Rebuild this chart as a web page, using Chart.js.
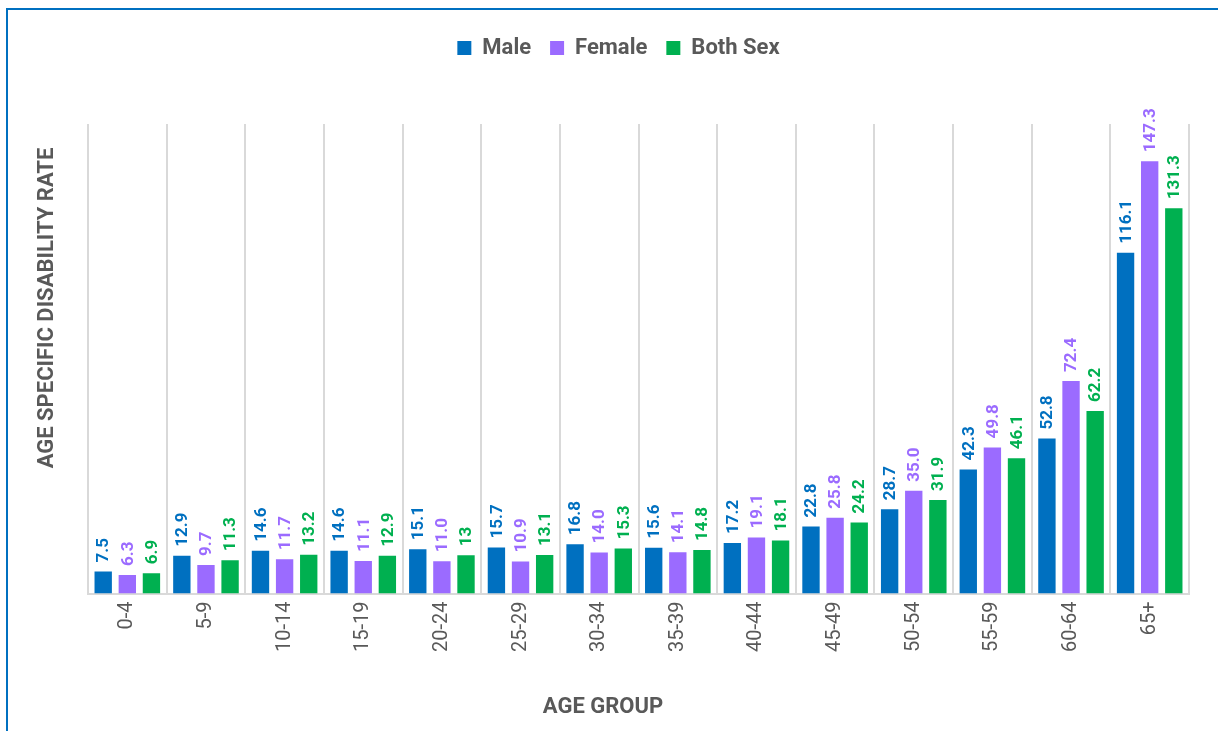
<!DOCTYPE html>
<html>
<head>
<meta charset="utf-8">
<script src="https://cdn.jsdelivr.net/npm/chart.js@4"></script>
<style>
  body { margin: 0; background: #fff; }
  #wrap { position: relative; width: 1218px; height: 731px; }
  #frame { position: absolute; left: 6px; top: 8px; right: -10px; bottom: -10px; border-left: 2px solid #0070C0; border-top: 2px solid #0070C0; }
  canvas { position: absolute; left: 0; top: 0; }
</style>
</head>
<body>
<div id="wrap">
  <div id="frame"></div>
  <canvas id="myChart" width="1218" height="731"></canvas>
</div>
<script>
// Age groups on the x axis
const ageGroups = ['0-4', '5-9', '10-14', '15-19', '20-24', '25-29', '30-34', '35-39', '40-44', '45-49', '50-54', '55-59', '60-64', '65+'];

// Rates (kept as text so the labels show as printed)
const male = ['7.5', '12.9', '14.6', '14.6', '15.1', '15.7', '16.8', '15.6', '17.2', '22.8', '28.7', '42.3', '52.8', '116.1'];
const female = ['6.3', '9.7', '11.7', '11.1', '11.0', '10.9', '14.0', '14.1', '19.1', '25.8', '35.0', '49.8', '72.4', '147.3'];
const bothSex = ['6.9', '11.3', '13.2', '12.9', '13', '13.1', '15.3', '14.8', '18.1', '24.2', '31.9', '46.1', '62.2', '131.3'];

const textGrey = '#595959';
const font = 'Roboto';

// Draws the rotated value above each bar
const valueLabels = {
  id: 'valueLabels',
  afterDatasetsDraw(chart) {
    const c = chart.ctx;
    chart.data.datasets.forEach((ds, i) => {
      chart.getDatasetMeta(i).data.forEach((bar, j) => {
        c.save();
        c.translate(bar.x, bar.y - 9);
        c.rotate(-Math.PI / 2);
        c.font = 'bold 17px ' + font;
        c.fillStyle = ds.backgroundColor;
        c.textAlign = 'left';
        c.textBaseline = 'middle';
        c.fillText(ds.data[j], 0, 1);
        c.restore();
      });
    });
  }
};

// Leave room under the legend and nudge it left, like the original
const legendGap = {
  id: 'legendGap',
  beforeInit(chart) {
    const fit = chart.legend.fit;
    chart.legend.fit = function () {
      fit.call(this);
      this.height += 55;
    };
  },
  afterLayout(chart) {
    chart.legend.left -= 20;
    chart.legend.right -= 20;
  }
};

// Axis titles, centred on the whole chart like the original
const axisTitles = {
  id: 'axisTitles',
  afterDraw(chart) {
    const c = chart.ctx;
    c.save();
    c.font = 'bold 22px ' + font;
    c.fillStyle = textGrey;
    c.textAlign = 'center';
    c.textBaseline = 'middle';
    c.fillText('AGE GROUP', 603, 707);
    c.translate(47, 308);
    c.rotate(-Math.PI / 2);
    c.fillText('AGE SPECIFIC DISABILITY RATE', 0, 0);
    c.restore();
  }
};

const ctx = document.getElementById('myChart').getContext('2d');
const myChart = new Chart(ctx, {
  type: 'bar',
  data: {
    labels: ageGroups,
    datasets: [
      { label: 'Male', data: male, backgroundColor: '#0070C0' },
      { label: 'Female', data: female, backgroundColor: '#9B6BFF' },
      { label: 'Both Sex', data: bothSex, backgroundColor: '#00B050' }
    ]
  },
  options: {
    responsive: false,
    animation: false,
    barPercentage: 0.72,
    categoryPercentage: 0.92,
    layout: { padding: { left: 88, right: 29, top: 18, bottom: 71 } },
    plugins: {
      legend: {
        position: 'top',
        labels: {
          boxWidth: 14,
          boxHeight: 14,
          padding: 19,
          color: textGrey,
          font: { family: font, size: 22, weight: 'bold' }
        }
      },
      tooltip: { enabled: false }
    },
    scales: {
      x: {
        grid: { color: '#d9d9d9', lineWidth: 2, drawTicks: false },
        border: { color: '#d9d9d9', width: 2 },
        ticks: {
          color: textGrey,
          minRotation: 90,
          maxRotation: 90,
          padding: 8,
          font: { family: font, size: 20 }
        }
      },
      y: {
        display: false,
        min: 0,
        max: 160
      }
    }
  },
  plugins: [valueLabels, legendGap, axisTitles]
});
</script>
</body>
</html>
